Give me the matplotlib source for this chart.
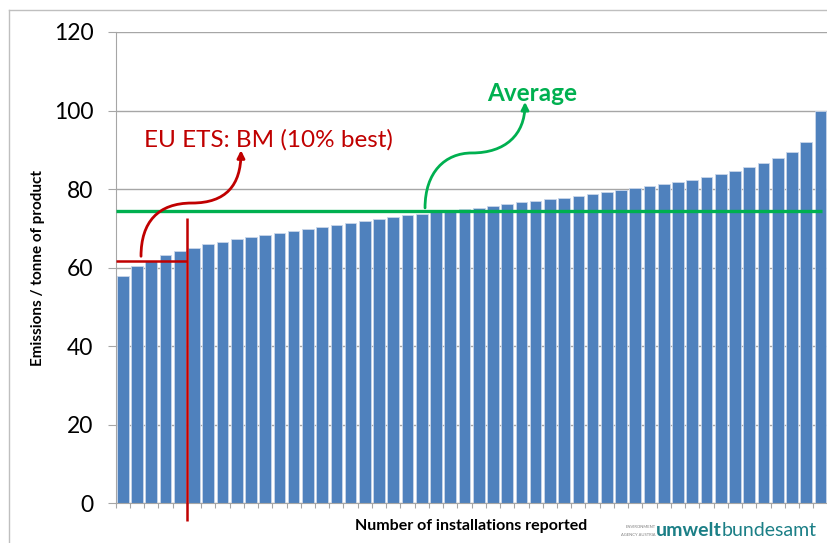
import matplotlib.pyplot as plt
from matplotlib.lines import Line2D
from matplotlib.path import Path
from matplotlib.patches import FancyArrowPatch

plt.rcParams["font.family"] = ["Lato", "DejaVu Sans"]

# emissions per installation, sorted ascending (50 installations)
emissions = [
    57.8, 60.3, 61.8, 63.2, 64.2, 65.1, 65.9, 66.6, 67.2, 67.8,
    68.4, 68.9, 69.4, 69.9, 70.4, 70.9, 71.4, 71.9, 72.4, 72.8,
    73.3, 73.7, 74.2, 74.6, 74.9, 75.3, 75.7, 76.1, 76.6, 77.0,
    77.4, 77.8, 78.3, 78.8, 79.2, 79.8, 80.2, 80.7, 81.2, 81.9,
    82.4, 83.1, 83.8, 84.6, 85.5, 86.6, 87.8, 89.5, 91.9, 100.0,
]
average_value = 74.3
benchmark_value = 61.75
benchmark_index = 4.5   # boundary after the 10% best installations
y_ticks = [0, 20, 40, 60, 80, 100, 120]

BAR_BLUE = "#4F81BD"
RED = "#C00000"
GREEN = "#00B050"
GRID = "#A6A6A6"

fig = plt.figure(figsize=(8.28, 5.43), dpi=100)
ax = fig.add_axes([0.1397, 0.0731, 0.8597, 0.868])

n = len(emissions)
xs = list(range(n))
ax.bar(xs, emissions, width=0.82, color=BAR_BLUE, edgecolor="#C9D6EA",
       linewidth=0.6, zorder=2)

ax.set_xlim(-0.5, n - 0.5)
ax.set_ylim(0, 120)
ax.set_yticks(y_ticks)
ax.set_yticklabels([str(v) for v in y_ticks], fontsize=16.5)
ax.set_xticks([i - 0.5 for i in range(n + 1)])
ax.set_xticklabels([])
ax.tick_params(axis="y", length=6, color=GRID, pad=10)
ax.tick_params(axis="x", length=3.5, color=GRID)
ax.yaxis.grid(True, color=GRID, linewidth=1.0, zorder=0)
ax.set_axisbelow(True)
for side in ("top", "right"):
    ax.spines[side].set_visible(False)
for side in ("left", "bottom"):
    ax.spines[side].set_color(GRID)

ax.set_ylabel("Emissions / tonne of product", fontsize=11, fontweight="bold",
              labelpad=6)
ax.set_xlabel("Number of installations reported", fontsize=11.5,
              fontweight="bold", labelpad=4)

# average line
ax.plot([-0.5, 49.1], [average_value, average_value], color=GREEN,
        linewidth=2.4, zorder=4, solid_capstyle="butt")

# benchmark lines (10% best)
ax.plot([-0.5, benchmark_index], [benchmark_value, benchmark_value], color=RED,
        linewidth=1.8, zorder=4, solid_capstyle="butt")
ax.plot([benchmark_index, benchmark_index], [72.6, -4.6], color=RED,
        linewidth=1.8, zorder=4, clip_on=False, solid_capstyle="butt")

# curved arrows
codes = [Path.MOVETO, Path.CURVE4, Path.CURVE4, Path.CURVE4,
         Path.CURVE4, Path.CURVE4, Path.CURVE4]
red_path = Path([(1.28, 62.9), (1.28, 71.6), (2.47, 76.45), (4.86, 76.45),
                 (7.25, 76.45), (8.3, 81.0), (8.3, 89.9)], codes)
green_path = Path([(21.23, 75.2), (21.23, 84.3), (22.63, 89.2), (24.53, 89.2),
                   (26.85, 89.2), (28.25, 93.8), (28.25, 102.2)], codes)
for p, c in ((red_path, RED), (green_path, GREEN)):
    ax.add_patch(FancyArrowPatch(path=p, arrowstyle="-|>", mutation_scale=11,
                                 color=c, linewidth=2.0, zorder=5,
                                 clip_on=False))

ax.text(10.2, 92.5, "EU ETS: BM (10% best)", color=RED, fontsize=17.5,
        ha="center", va="center")
ax.text(28.75, 104.3, "Average", color=GREEN, fontsize=17.5, fontweight="bold",
        ha="center", va="center")

# outer chart border (Excel style)
W, H = 828, 543
fig.add_artist(Line2D([9 / W, 9 / W], [0, 1 - 10 / H], color="#BFBFBF",
                      linewidth=1.0, transform=fig.transFigure))
fig.add_artist(Line2D([9 / W, 1], [1 - 10 / H, 1 - 10 / H], color="#BFBFBF",
                      linewidth=1.0, transform=fig.transFigure))

# logo text
fig.text(656 / W, 1 - 527 / H, "ENVIRONMENT", fontsize=3, color="#808080",
         ha="right", va="center")
fig.text(656 / W, 1 - 535 / H, "AGENCY AUSTRIA", fontsize=3, color="#808080",
         ha="right", va="center")
fig.text(722 / W, 1 - 531 / H, "umwelt", fontsize=14, fontweight="bold",
         color="#1B7F86", ha="right", va="center")
fig.text(722 / W, 1 - 531 / H, "bundesamt", fontsize=14, color="#1B7F86",
         ha="left", va="center")

fig.savefig("out.png", dpi=100)
